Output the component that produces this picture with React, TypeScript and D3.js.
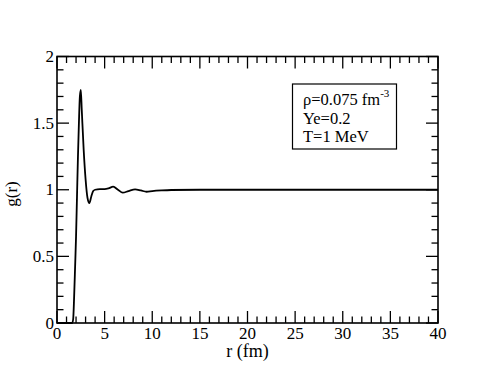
import React from "react";
import * as d3 from "d3";

const rValues = [0, 1.6, 1.7, 1.8, 1.9, 2.0, 2.1, 2.2, 2.3, 2.4, 2.5, 2.6, 2.8, 3.0, 3.2, 3.4, 3.6, 3.8, 4.0, 4.5, 5.0, 5.4, 5.9, 6.4, 6.9, 7.5, 8.2, 8.8, 9.4, 10, 11, 12, 15, 20, 30, 40];
const gValues = [0, 0, 0.03, 0.2, 0.42, 0.65, 0.95, 1.25, 1.5, 1.7, 1.75, 1.6, 1.3, 1.08, 0.94, 0.9, 0.95, 0.99, 1.0, 1.005, 1.005, 1.01, 1.023, 1.0, 0.978, 0.99, 1.003, 0.995, 0.985, 0.99, 0.995, 0.998, 1.0, 1.0, 1.0, 1.0];
const xMajorTicks = [0, 5, 10, 15, 20, 25, 30, 35, 40];
const yMajorTicks = [0, 0.5, 1, 1.5, 2];
const yTickLabels = ["0", "0.5", "1", "1.5", "2"];
const legendLines = ["Ye=0.2", "T=1 MeV"];

const W = 493, H = 381;
const L = 57, R = 438, T = 56.5, B = 323;
const FONT = "Liberation Serif";

export default function App() {
  const x = d3.scaleLinear().domain([0, 40]).range([L, R]);
  const y = d3.scaleLinear().domain([0, 2]).range([B, T]);
  const data = rValues.map((r, i) => [r, gValues[i]] as [number, number]);
  const line = d3.line<[number, number]>().x(d => x(d[0])).y(d => y(d[1])).curve(d3.curveMonotoneX);
  const xMinor = d3.range(0, 40.001, 1).filter(v => v % 5 !== 0);
  const yMinor = d3.range(0, 2.0001, 0.1).map(v => +v.toFixed(2)).filter(v => Math.abs(v * 2 - Math.round(v * 2)) > 1e-6);
  const MAJ = 12, MIN = 6.5;
  return (
    <svg width={W} height={H} style={{ position: "absolute", left: 0, top: 0, background: "#fff" }} fontFamily={FONT}>
      <rect x={0} y={0} width={W} height={H} fill="#fff" />
      <g stroke="#000" strokeWidth={1.3}>
        {xMajorTicks.map(v => (
          <g key={"xM" + v}>
            <line x1={x(v)} x2={x(v)} y1={B} y2={B - MAJ} />
            <line x1={x(v)} x2={x(v)} y1={T} y2={T + MAJ} />
          </g>
        ))}
        {xMinor.map(v => (
          <g key={"xm" + v}>
            <line x1={x(v)} x2={x(v)} y1={B} y2={B - MIN} />
            <line x1={x(v)} x2={x(v)} y1={T} y2={T + MIN} />
          </g>
        ))}
        {yMajorTicks.map(v => (
          <g key={"yM" + v}>
            <line x1={L} x2={L + MAJ} y1={y(v)} y2={y(v)} />
            <line x1={R} x2={R - MAJ} y1={y(v)} y2={y(v)} />
          </g>
        ))}
        {yMinor.map(v => (
          <g key={"ym" + v}>
            <line x1={L} x2={L + MIN} y1={y(v)} y2={y(v)} />
            <line x1={R} x2={R - MIN} y1={y(v)} y2={y(v)} />
          </g>
        ))}
      </g>
      <path d={line(data) || ""} fill="none" stroke="#000" strokeWidth={1.8} />
      <rect x={L} y={T} width={R - L} height={B - T} fill="none" stroke="#000" strokeWidth={1.6} />
      <g fill="#000" fontSize={17}>
        {xMajorTicks.map(v => (
          <text key={"xl" + v} x={x(v)} y={338.5} textAnchor="middle">{v}</text>
        ))}
        {yMajorTicks.map((v, i) => (
          <text key={"yl" + v} x={54} y={y(v)} dy="0.33em" textAnchor="end">{yTickLabels[i]}</text>
        ))}
      </g>
      <text x={(L + R) / 2} y={357} textAnchor="middle" fontSize={18}>r (fm)</text>
      <text transform="translate(17,194) rotate(-90)" textAnchor="middle" fontSize={17}>g(r)</text>
      <rect x={292.5} y={84} width={104} height={65} fill="none" stroke="#000" strokeWidth={1.2} />
      <g fill="#000" fontSize={16.5}>
        <text x={303} y={104.5}>ρ=0.075 fm<tspan fontSize={11} dy={-8}>-3</tspan></text>
        {legendLines.map((s, i) => (
          <text key={s} x={303} y={123.5 + i * 18.3}>{s}</text>
        ))}
      </g>
    </svg>
  );
}
